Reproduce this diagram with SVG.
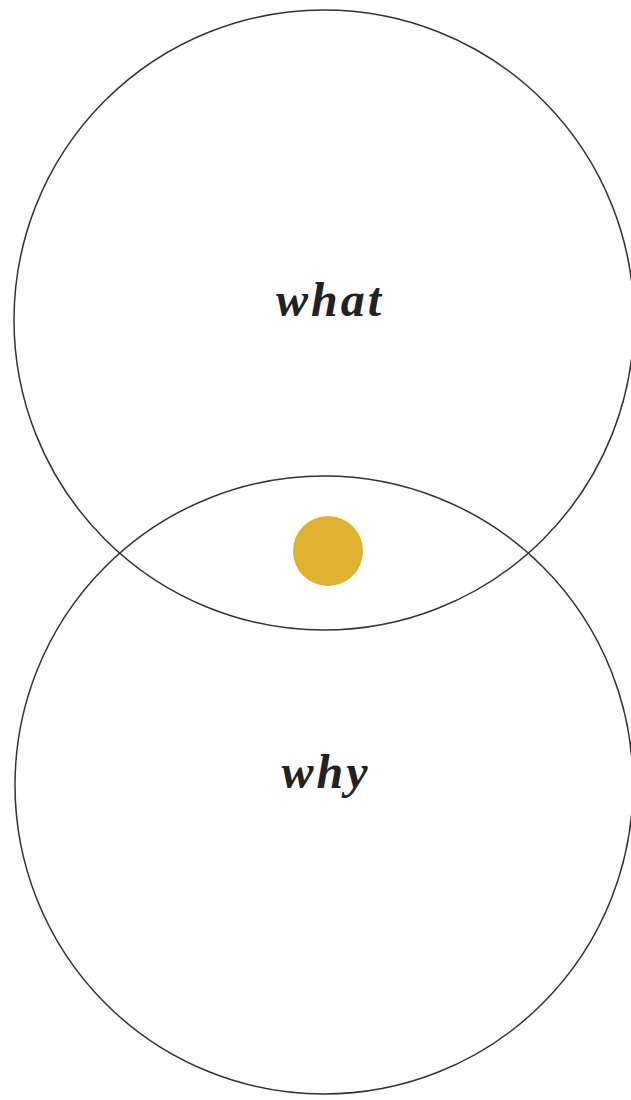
<svg xmlns="http://www.w3.org/2000/svg" width="631" height="1100" viewBox="0 0 631 1100">
<style>
.ring{fill:none;stroke:#333;stroke-width:1.5}
.lbl{font-family:"Liberation Serif","DejaVu Serif",serif;font-style:italic;font-weight:bold;font-size:48px;letter-spacing:3px;fill:#222;text-anchor:middle}
</style>
<rect width="631" height="1100" fill="#fff"/>
<g id="what">
<circle class="ring" cx="324" cy="320" r="310"/>
<text class="lbl" x="330" y="316">what</text>
</g>
<g id="why">
<circle class="ring" cx="324" cy="785" r="309"/>
<text class="lbl" x="326" y="788">why</text>
</g>
<g id="dot">
<circle cx="328" cy="551" r="35" fill="#E0B030"/>
</g>
<g id="connectors"></g>
</svg>
